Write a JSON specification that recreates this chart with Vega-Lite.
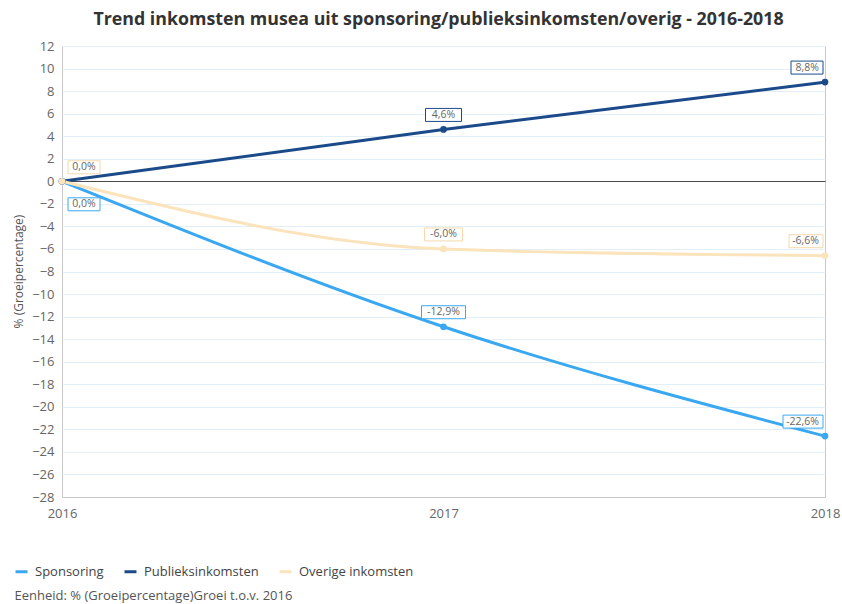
{
  "$schema": "https://vega.github.io/schema/vega-lite/v6.json",
  "width": 763,
  "height": 451,
  "autosize": "none",
  "padding": {"left": 62, "top": 46, "right": 17, "bottom": 107},
  "background": "white",
  "title": {
    "text": "Trend inkomsten musea uit sponsoring/publieksinkomsten/overig - 2016-2018",
    "fontSize": 17.8,
    "font": "Open Sans",
    "fontWeight": "bold",
    "color": "#333333",
    "offset": 11,
    "dx": -5,
    "anchor": "middle"
  },
  "config": {
    "view": {"stroke": "#c8c8c8"},
    "font": "Open Sans"
  },
  "data": {
    "values": [
      {"year": 2016, "series": "Sponsoring", "value": 0, "label": "0,0%"},
      {"year": 2017, "series": "Sponsoring", "value": -12.9, "label": "-12,9%"},
      {"year": 2018, "series": "Sponsoring", "value": -22.6, "label": "-22,6%"},
      {"year": 2016, "series": "Publieksinkomsten", "value": 0, "label": "0,0%"},
      {"year": 2017, "series": "Publieksinkomsten", "value": 4.6, "label": "4,6%"},
      {"year": 2018, "series": "Publieksinkomsten", "value": 8.8, "label": "8,8%"},
      {"year": 2016, "series": "Overige inkomsten", "value": 0, "label": "0,0%"},
      {"year": 2017, "series": "Overige inkomsten", "value": -6.0, "label": "-6,0%"},
      {"year": 2018, "series": "Overige inkomsten", "value": -6.6, "label": "-6,6%"}
    ]
  },
  "encoding": {
    "x": {
      "field": "year",
      "type": "quantitative",
      "scale": {"domain": [2016, 2018], "nice": false, "zero": false},
      "axis": {
        "tickCount": 2,
        "format": "d",
        "grid": false,
        "ticks": false,
        "domainColor": "#c8c8c8",
        "labelFontSize": 13,
        "labelColor": "#666666",
        "labelPadding": 10,
        "labelFlush": false,
        "labelOverlap": false,
        "title": "Eenheid: % (Groeipercentage)Groei t.o.v. 2016",
        "titleX": -48,
        "titleY": 102,
        "titleAlign": "left",
        "titleBaseline": "alphabetic",
        "titleFontWeight": "normal",
        "titleFontSize": 13,
        "titleColor": "#555555"
      }
    },
    "y": {
      "field": "value",
      "type": "quantitative",
      "scale": {"domain": [-28, 12], "nice": false},
      "axis": {
        "values": [-28, -26, -24, -22, -20, -18, -16, -14, -12, -10, -8, -6, -4, -2, 0, 2, 4, 6, 8, 10, 12],
        "grid": true,
        "gridColor": {"condition": {"test": "datum.value === 0", "value": "#4a4a4a"}, "value": "#e2eef8"},
        "ticks": false,
        "domain": false,
        "labelFontSize": 13,
        "labelColor": "#666666",
        "labelPadding": 8,
        "labelOverlap": false,
        "title": "% (Groeipercentage)",
        "titleX": -44,
        "titleY": 225,
        "titleBaseline": "middle",
        "titleFontWeight": "normal",
        "titleFontSize": 12,
        "titleColor": "#555555"
      }
    }
  },
  "layer": [
    {
      "mark": {"type": "line", "interpolate": "monotone", "strokeWidth": 3},
      "encoding": {
        "color": {
          "field": "series",
          "type": "nominal",
          "scale": {
            "domain": ["Sponsoring", "Publieksinkomsten", "Overige inkomsten"],
            "range": ["#3aa8f0", "#1a4a8a", "#fbe3bb"]
          },
          "legend": {
            "orient": "none",
            "legendX": -48,
            "legendY": 518,
            "direction": "horizontal",
            "columns": 3,
            "title": null,
            "symbolType": "stroke",
            "symbolStrokeWidth": 3,
            "symbolSize": 144,
            "labelFontSize": 13,
            "labelColor": "#444444",
            "columnPadding": 14,
            "labelOffset": 6
          }
        }
      }
    },
    {
      "mark": {"type": "point", "filled": true, "size": 45, "opacity": 1},
      "encoding": {
        "color": {"field": "series", "type": "nominal"}
      }
    },
    {
      "transform": [{"filter": "datum.year == 2016 && datum.series == 'Overige inkomsten'"}],
      "mark": {"type": "point", "filled": true, "fill": "white", "opacity": 1, "strokeWidth": 1, "size": 4, "shape": "M6,-20.5H38V-7.5H6Z"},
      "encoding": {
        "stroke": {"field": "series", "type": "nominal", "scale": {"domain": ["Sponsoring", "Publieksinkomsten", "Overige inkomsten"], "range": ["#3aa8f0", "#1a4a8a", "#f3d9aa"]}, "legend": null}
      }
    },
    {
      "transform": [{"filter": "datum.year == 2016 && datum.series == 'Sponsoring'"}],
      "mark": {"type": "point", "filled": true, "fill": "white", "opacity": 1, "strokeWidth": 1, "size": 4, "shape": "M6,16.5H38V29.5H6Z"},
      "encoding": {
        "stroke": {"field": "series", "type": "nominal", "legend": null}
      }
    },
    {
      "transform": [{"filter": "datum.year == 2017"}],
      "mark": {"type": "point", "filled": true, "fill": "white", "opacity": 1, "strokeWidth": 1, "size": 4},
      "encoding": {
        "stroke": {"field": "series", "type": "nominal", "legend": null},
        "shape": {
          "field": "series",
          "type": "nominal",
          "scale": {
            "domain": ["Sponsoring", "Publieksinkomsten", "Overige inkomsten"],
            "range": ["M-22,-21H22V-8H-22Z", "M-18,-21H18V-8H-18Z", "M-19,-21H19V-8H-19Z"]
          },
          "legend": null
        }
      }
    },
    {
      "transform": [{"filter": "datum.year == 2018"}],
      "mark": {"type": "point", "filled": true, "fill": "white", "opacity": 1, "strokeWidth": 1, "size": 4},
      "encoding": {
        "stroke": {"field": "series", "type": "nominal", "legend": null},
        "shape": {
          "field": "series",
          "type": "nominal",
          "scale": {
            "domain": ["Sponsoring", "Publieksinkomsten", "Overige inkomsten"],
            "range": ["M-42,-21H-2V-8H-42Z", "M-34,-21H-2V-8H-34Z", "M-36,-21H-2V-8H-36Z"]
          },
          "legend": null
        }
      }
    },
    {
      "transform": [{"filter": "datum.year == 2016 && datum.series == 'Overige inkomsten'"}],
      "mark": {"type": "text", "fontSize": 10.5, "color": "#666666", "align": "center", "baseline": "middle", "dx": 22, "dy": -14},
      "encoding": {"text": {"field": "label"}}
    },
    {
      "transform": [{"filter": "datum.year == 2016 && datum.series == 'Sponsoring'"}],
      "mark": {"type": "text", "fontSize": 10.5, "color": "#666666", "align": "center", "baseline": "middle", "dx": 22, "dy": 23},
      "encoding": {"text": {"field": "label"}}
    },
    {
      "transform": [{"filter": "datum.year == 2017"}],
      "mark": {"type": "text", "fontSize": 10.5, "color": "#666666", "align": "center", "baseline": "middle", "dx": 0, "dy": -14.5},
      "encoding": {"text": {"field": "label"}}
    },
    {
      "transform": [{"filter": "datum.year == 2018"}],
      "mark": {"type": "text", "fontSize": 10.5, "color": "#666666", "align": "right", "baseline": "middle", "dx": -6, "dy": -14.5},
      "encoding": {"text": {"field": "label"}}
    }
  ],
  "resolve": {"scale": {"shape": "independent"}}
}
